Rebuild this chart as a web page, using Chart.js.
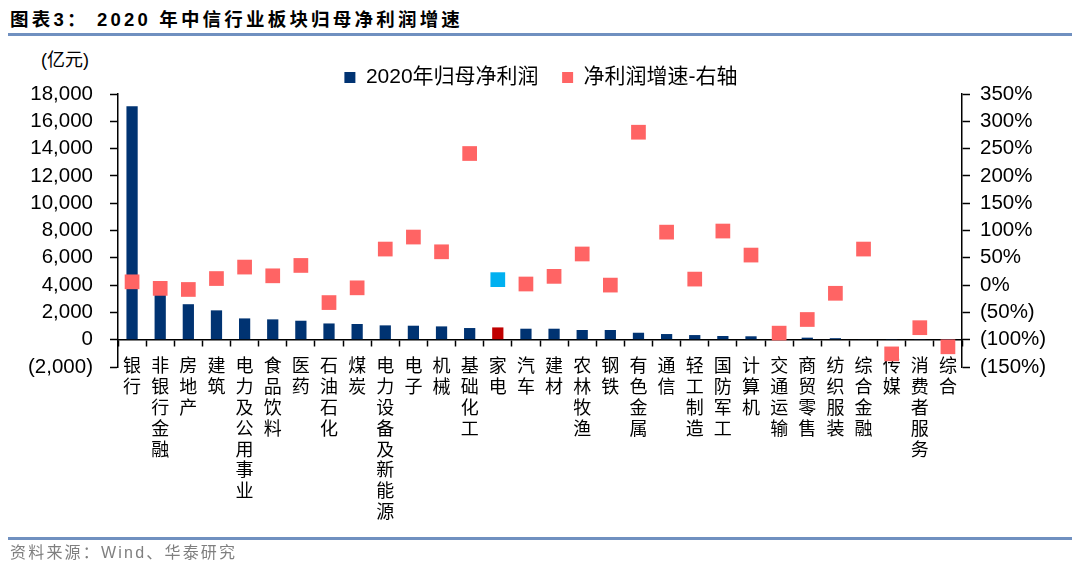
<!DOCTYPE html>
<html>
<head>
<meta charset="utf-8">
<script src="https://cdn.jsdelivr.net/npm/chart.js@4/dist/chart.umd.min.js"></script>
<style>
  html, body { margin: 0; padding: 0; background: #fff; }
  body { width: 1080px; height: 575px; position: relative; overflow: hidden; font-family: "Liberation Sans", "Noto Sans CJK SC", sans-serif; }
  #title { position: absolute; left: 10px; top: 7px; font-size: 18.5px; font-weight: bold; letter-spacing: 3.2px; color: #000; white-space: pre; line-height: 26px; }
  .rule { position: absolute; left: 8px; width: 1064px; height: 3px; background: #7090C0; }
  #unit { position: absolute; left: 41px; top: 48px; font-size: 18px; color: #000; line-height: 24px; }
  #source { position: absolute; left: 10px; top: 541px; font-size: 16px; color: #7f7f7f; letter-spacing: 2.2px; line-height: 24px; }
  #wrap { position: absolute; left: 0; top: 0; width: 1080px; height: 575px; }
</style>
</head>
<body>
<div id="title">图表3： 2020 年中信行业板块归母净利润增速</div>
<div class="rule" style="top:33px"></div>
<div id="unit">(亿元)</div>
<div id="wrap"><canvas id="c" width="1080" height="575"></canvas></div>
<div class="rule" style="top:537px"></div>
<div id="source">资料来源：Wind、华泰研究</div>
<script>
const categories = ['银行','非银行金融','房地产','建筑','电力及公用事业','食品饮料','医药','石油石化','煤炭','电力设备及新能源','电子','机械','基础化工','家电','汽车','建材','农林牧渔','钢铁','有色金属','通信','轻工制造','国防军工','计算机','交通运输','商贸零售','纺织服装','综合金融','传媒','消费者服务','综合'];
const profit2020 = [17100, 3300, 2600, 2150, 1560, 1490, 1390, 1190, 1150, 1050, 1025, 975, 855, 900, 805, 805, 710, 710, 510, 415, 340, 270, 250, 150, 150, 110, 30, 20, 20, 10];
const growthPct = [6, -6, -8, 12, 33, 17, 36, -32, -5, 66, 88, 61, 241, 10, 2, 16, 57, 0, 280, 97, 11, 99, 55, -88, -63, -15, 66, -126, -78, -113];
const leftTicks = { min: -2000, max: 18000, step: 2000 };
const rightTicks = { min: -150, max: 350, step: 50 };
const seriesNames = ['2020年归母净利润', '净利润增速-右轴'];
const highlightIndex = categories.indexOf('家电');

const NAVY = '#003372', RED = '#C00000', PINK = '#FF6464', CYAN = '#00B0F0';
const labelLines = categories.map(c => Array.from(c));

const fmtLeft = v => v < 0 ? '(' + Math.abs(v).toLocaleString('en-US') + ')' : v.toLocaleString('en-US');
const fmtRight = v => v < 0 ? '(' + Math.abs(v) + '%)' : v + '%';

// nudge the legend row down a few pixels without changing the plot area
const legendNudge = {
  id: 'legendNudge',
  afterLayout(chart) {
    if (chart.legend) {
      chart.legend.top += 4; chart.legend.bottom += 4;
      chart.legend.left += 1; chart.legend.right += 1;
    }
  }
};

new Chart(document.getElementById('c'), {
  data: {
    labels: labelLines,
    datasets: [
      {
        type: 'bar',
        label: seriesNames[0],
        data: profit2020,
        yAxisID: 'y',
        order: 1,
        backgroundColor: ctx => (ctx.dataIndex === highlightIndex ? RED : NAVY),
        borderWidth: 0,
        barPercentage: 0.4,
        categoryPercentage: 1.0
      },
      {
        type: 'line',
        label: seriesNames[1],
        data: growthPct,
        yAxisID: 'y1',
        order: 0,
        showLine: false,
        borderWidth: 0,
        borderColor: PINK,
        backgroundColor: PINK,
        pointStyle: 'rect',
        pointRadius: 10.4,
        pointBorderWidth: 0,
        pointBackgroundColor: ctx => (ctx.dataIndex === highlightIndex ? CYAN : PINK),
        clip: false
      }
    ]
  },
  plugins: [legendNudge],
  options: {
    responsive: false,
    animation: false,
    events: [],
    layout: { padding: { left: 0, right: 0, top: 57, bottom: 208 } },
    plugins: {
      tooltip: { enabled: false },
      legend: {
        position: 'top',
        reverse: true,
        labels: {
          boxWidth: 11,
          boxHeight: 11,
          padding: 6,
          color: '#000',
          font: { family: '"Liberation Sans", "Noto Sans CJK SC", sans-serif', size: 21 },
          generateLabels(chart) {
            const items = Chart.defaults.plugins.legend.labels.generateLabels(chart);
            return items.map(it => (it.datasetIndex === 0 ? Object.assign(it, { text: it.text + '   ' }) : it));
          }
        }
      }
    },
    scales: {
      x: {
        type: 'category',
        position: { y: 0 },
        offset: true,
        grid: { display: true, drawOnChartArea: false, drawTicks: true, tickLength: 6, tickColor: '#000', tickWidth: 1.5, offset: true },
        border: { display: true, color: '#000', width: 1.5 },
        ticks: {
          autoSkip: false, maxRotation: 0, minRotation: 0, padding: 9, color: '#000',
          font: { family: '"Noto Sans CJK SC", sans-serif', size: 18, lineHeight: 1.16 }
        }
      },
      y: {
        type: 'linear',
        position: 'left',
        min: leftTicks.min, max: leftTicks.max,
        afterFit: s => { s.width = 118; },
        grid: { display: true, drawOnChartArea: false, drawTicks: true, tickLength: 8, tickColor: '#000', tickWidth: 1.5 },
        border: { display: true, color: '#000', width: 1.5 },
        ticks: {
          stepSize: leftTicks.step, autoSkip: false, padding: 17, color: '#000',
          font: { family: '"Liberation Sans", sans-serif', size: 20.5 },
          callback: v => fmtLeft(v)
        }
      },
      y1: {
        type: 'linear',
        position: 'right',
        min: rightTicks.min, max: rightTicks.max,
        afterFit: s => { s.width = 118; },
        grid: { display: true, drawOnChartArea: false, drawTicks: true, tickLength: 8, tickColor: '#000', tickWidth: 1.5 },
        border: { display: true, color: '#000', width: 1.5 },
        ticks: {
          stepSize: rightTicks.step, autoSkip: false, padding: 10, color: '#000',
          font: { family: '"Liberation Sans", sans-serif', size: 20.5 },
          callback: v => fmtRight(v)
        }
      }
    }
  }
});
</script>
</body>
</html>
